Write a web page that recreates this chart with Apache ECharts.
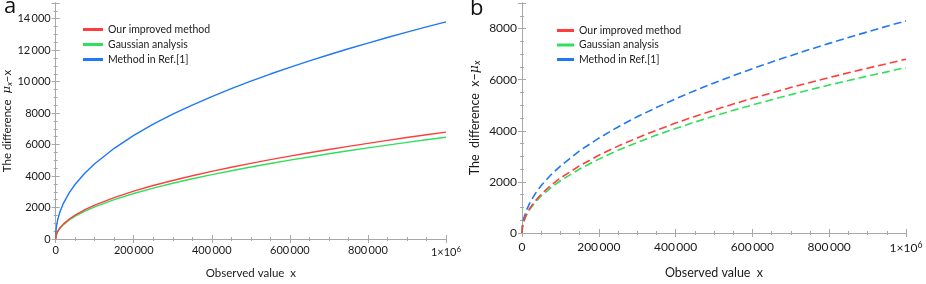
<!DOCTYPE html>
<html><head><meta charset="utf-8">
<script src="https://cdn.jsdelivr.net/npm/echarts@6/dist/echarts.min.js"></script>
<style>html,body{margin:0;padding:0;background:#fff}#c{width:926px;height:284px}</style>
</head><body><div id="c"></div>
<script>
const xs = [0, 1000, 2500, 5000, 10000, 20000, 35000, 50000, 75000, 100000, 150000,
  200000, 250000, 300000, 350000, 400000, 450000, 500000, 550000, 600000, 650000, 700000, 750000, 800000, 850000, 900000, 950000, 1000000];
// Panel a: mu_x - x
const redA   = [0, 215, 340, 480, 680, 960, 1270, 1520, 1860, 2150, 2630,
  3040, 3400, 3720, 4020, 4300, 4560, 4810, 5045, 5270, 5480, 5690, 5890, 6080, 6270, 6450, 6625, 6790];
const greenA = [0, 205, 325, 460, 650, 915, 1210, 1450, 1770, 2045, 2505,
  2890, 3235, 3545, 3830, 4090, 4340, 4575, 4800, 5010, 5215, 5415, 5605, 5790, 5965, 6140, 6305, 6465];
const blueA  = [0, 575, 880, 1205, 1660, 2285, 2950, 3480, 4190, 4785, 5765,
  6585, 7295, 7935, 8515, 9055, 9560, 10035, 10485, 10910, 11320, 11710, 12090, 12450, 12810, 13150, 13480, 13800];
// Panel b: x - mu_x
const redB   = [0, 215, 340, 480, 680, 960, 1270, 1520, 1860, 2150, 2630,
  3040, 3400, 3720, 4020, 4300, 4560, 4810, 5045, 5270, 5480, 5690, 5890, 6080, 6270, 6450, 6625, 6800];
const greenB = [0, 205, 325, 460, 650, 915, 1210, 1450, 1770, 2045, 2505,
  2890, 3235, 3545, 3830, 4090, 4340, 4575, 4800, 5010, 5215, 5415, 5605, 5790, 5965, 6140, 6305, 6475];
const blueB  = [0, 262, 415, 590, 830, 1170, 1550, 1860, 2270, 2620, 3220,
  3710, 4150, 4550, 4910, 5250, 5570, 5870, 6155, 6430, 6690, 6940, 7185, 7420, 7650, 7870, 8090, 8300];
const names = ['Our improved method', 'Gaussian analysis', 'Method in Ref.[1]'];
const colors = ['#ff3d3d', '#2ee05c', '#1f78f5'];

const pts = arr => xs.map((x, i) => [x, arr[i]]);
const FONT = 'Lato';
const AX = '#a8a8a8';
const TXT = '#1a1a1a';
const TS = '\u2009';
function fmtX(v) {
  if (v === 1000000) return '1\u00d710{sup|6}';
  if (v === 0) return '0';
  const s = String(v);
  return s.slice(0, s.length - 3) + TS + s.slice(-3);
}
function fmtY(v) {
  const s = String(v);
  if (v >= 10000) return s.slice(0, s.length - 3) + TS + s.slice(-3);
  return s;
}
const tickStyle = {show: true, inside: true, length: 4, lineStyle: {color: AX}};
const minorStyle = {show: true, splitNumber: 4, length: 2, lineStyle: {color: AX}};
function xAxes(gi, fs, margin, gap) {
  return [
    {type: 'value', gridIndex: gi, min: 0, max: 1000000, interval: 200000, position: 'bottom',
     axisLine: {lineStyle: {color: AX}}, axisTick: tickStyle, minorTick: minorStyle, splitLine: {show: false},
     axisLabel: {formatter: fmtX, color: TXT, fontFamily: FONT, fontSize: fs, margin: margin, showMaxLabel: true,
       rich: {sup: {fontSize: fs * 0.72, fontFamily: FONT, color: TXT, verticalAlign: 'top', padding: [0, 0, 6, 0]}}},
     name: 'Observed value  x', nameLocation: 'middle', nameGap: gap,
     nameTextStyle: {color: TXT, fontFamily: FONT, fontSize: fs + 0.5}},
    {type: 'value', gridIndex: gi, min: 0, max: 1000000, interval: 200000, position: 'top',
     axisLine: {lineStyle: {color: AX}}, axisTick: tickStyle, minorTick: minorStyle, splitLine: {show: false},
     axisLabel: {show: false}}
  ];
}
function yAxes(gi, max, fs, name, gap) {
  return [
    {type: 'value', gridIndex: gi, min: 0, max: max, interval: 2000, position: 'left',
     axisLine: {show: true, lineStyle: {color: AX}}, axisTick: tickStyle, minorTick: minorStyle, splitLine: {show: false},
     axisLabel: {formatter: fmtY, color: TXT, fontFamily: FONT, fontSize: fs, margin: 5, showMaxLabel: false},
     name: name, nameLocation: 'middle', nameGap: gap,
     nameTextStyle: {color: TXT, fontFamily: FONT, fontSize: fs + 0.5,
       rich: {m: {fontFamily: 'DejaVu Serif', fontStyle: 'italic', fontSize: fs + 0.5, color: TXT},
              s: {fontFamily: FONT, fontStyle: 'italic', fontSize: fs - 2.5, color: TXT, verticalAlign: 'bottom', padding: [4, 0, 0, 0]}}}},
    {type: 'value', gridIndex: gi, min: 0, max: max, interval: 2000, position: 'right',
     axisLine: {show: true, lineStyle: {color: AX}}, axisTick: tickStyle, minorTick: minorStyle, splitLine: {show: false},
     axisLabel: {show: false}}
  ];
}
function ser(arr, i, xi, yi, dashed) {
  return {type: 'line', name: names[i], xAxisIndex: xi, yAxisIndex: yi, data: pts(arr),
    showSymbol: false, symbol: 'none', smooth: false, silent: true, animation: false,
    lineStyle: {color: colors[i], width: dashed ? 1.6 : 1.4, type: dashed ? [8, 4] : 'solid'},
    itemStyle: {color: colors[i]}, z: 3 - i + 2};
}
const chart = echarts.init(document.getElementById('c'), null, {renderer: 'canvas'});
chart.setOption({
  animation: false,
  grid: [
    {left: 51, right: 480, top: 3, bottom: 37},
    {left: 522, right: 20, top: 3, bottom: 44}
  ],
  xAxis: [...xAxes(0, 11, 6, 28), ...xAxes(1, 12, 8, 33)],
  yAxis: [...yAxes(0, 15000, 11, 'The difference  {m|\u03bc}{s|x}\u2212x', 34),
          ...yAxes(1, 9000, 12, 'The  difference  x\u2212{m|\u03bc}{s|x}', 40)],
  legend: [
    {left: 78, top: 19, orient: 'vertical', itemWidth: 20, itemHeight: 3, itemGap: 4, icon: 'rect',
     data: names, textStyle: {color: TXT, fontFamily: FONT, fontSize: 10.5}, selectedMode: false},
    {left: 552, top: 20, orient: 'vertical', itemWidth: 17, itemHeight: 3, itemGap: 3.5, icon: 'rect',
     data: names, textStyle: {color: TXT, fontFamily: FONT, fontSize: 10.5}, selectedMode: false}
  ],
  graphic: [
    {type: 'text', left: 4, top: -4, style: {text: 'a', font: '22px "Open Sans"', fill: '#111'}},
    {type: 'text', left: 470, top: -2, style: {text: 'b', font: '22px "Open Sans"', fill: '#111'}}
  ],
  series: [
    ser(redA, 0, 0, 0, false), ser(greenA, 1, 0, 0, false), ser(blueA, 2, 0, 0, false),
    ser(redB, 0, 2, 2, true), ser(greenB, 1, 2, 2, true), ser(blueB, 2, 2, 2, true)
  ]
});
</script></body></html>
